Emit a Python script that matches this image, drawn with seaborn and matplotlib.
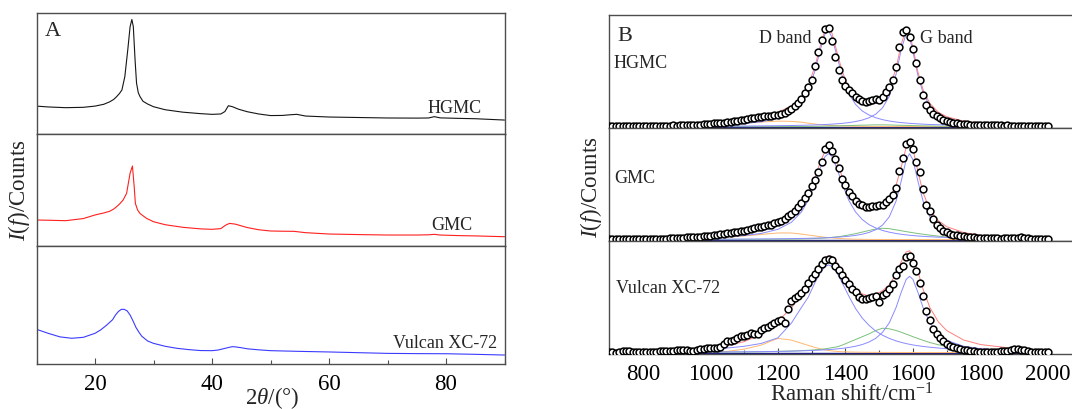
import matplotlib
matplotlib.use("Agg")
import matplotlib.pyplot as plt
from matplotlib.ticker import MultipleLocator
import numpy as np
import seaborn as sns

# ---------------- panel A: XRD patterns (counts in % of panel height) ----------------
hgmc_2theta = [10, 12, 15, 18, 20, 21.5, 22.5, 23.2, 23.7, 24.2, 24.6, 25.1, 25.6, 26.0, 26.3,
               26.55, 26.85, 27.1, 27.4, 27.7, 28.2, 29, 30, 32, 35, 38, 40, 41.5, 42.2, 42.8,
               43.5, 44.5, 46, 48, 50, 52, 53.5, 54.5, 56, 60, 65, 70, 75, 77, 78, 79, 82, 85, 90]
hgmc_xrd = [23, 22.3, 21.7, 22, 23, 24.5, 26.5, 28.5, 30.8, 33.5, 36.3, 47.3, 69.3, 88.5, 94.4,
            88.5, 61, 42, 34, 30.8, 27, 24.7, 22.5, 20, 18, 16.8, 16.2, 16.5, 18.5, 23.3,
            22.5, 20.5, 18.4, 16.5, 15.2, 15.3, 15.9, 16.2, 14.8, 14, 13.6, 13.2, 13.1, 13.2, 14.3,
            13.3, 12.9, 12.6, 11.5]

gmc_2theta = [10, 12, 15, 18, 20, 21.5, 22.5, 23.2, 23.7, 24.2, 24.8, 25.4, 26.0, 26.4, 26.7,
              26.9, 27.3, 27.7, 28.8, 30, 32, 35, 38, 40, 41.5, 42.3, 43, 44, 45, 46,
              48, 50, 52, 54, 56, 60, 65, 70, 75, 77, 78, 79, 82, 85, 90]
gmc_xrd = [23.2, 23, 22.6, 24.5, 27.7, 29.5, 31, 33, 35.1, 37.5, 41, 47, 65, 71.4, 53,
           38, 32, 29, 24.7, 21.7, 19, 16.7, 15.3, 14.9, 15.5, 18.5, 20.2, 19.5, 18, 16.5,
           14.5, 13.4, 13.2, 13.1, 11.9, 10.7, 10.2, 9.8, 9.8, 10, 10.4, 9.8, 9.3, 9, 8.3]

vulcan_2theta = [10, 12, 14, 16, 18, 20, 21, 22, 23, 23.5, 24, 24.5, 25, 25.5, 26, 26.5, 27,
                 27.5, 28, 29, 30, 32, 34, 36, 38, 40, 41, 42, 43, 43.5, 44, 45, 46, 48, 50,
                 55, 60, 65, 70, 75, 80, 85, 90]
vulcan_xrd = [29.4, 26, 23, 21.8, 22.6, 26, 29, 33, 37.5, 41.5, 44.5, 46.3, 46.3, 45, 41.5,
              36.5, 31, 27, 23.5, 19.5, 17.5, 15, 13.3, 12.2, 11.4, 11.3, 11.8, 13, 14.2, 14.7,
              14.5, 13.8, 12.9, 12, 11.3, 10.7, 10.2, 9.6, 9, 8.8, 8.7, 8.2, 7.6]

xrd_samples = ["HGMC", "GMC", "Vulcan XC-72"]
xrd_colors = ["#151515", "#ff1f1f", "#3b3bff"]

# ---------------- panel B: Raman spectra (700-2000 cm-1, 10 cm-1 step) ----------------
raman_shift = np.arange(700, 2001, 10)
raman_hgmc = [0.5, 0.3, 0.6, 0.4, 0.5, 0.6, 0.4, 0.5, 0.7, 0.5, 0.6, 0.5, 0.7, 0.6, 0.8,
              0.6, 0.7, 0.9, 0.8, 1.0, 0.9, 1.1, 1.0, 1.2, 1.3, 1.4, 1.6, 1.8, 2.0, 2.2,
              2.3, 2.8, 3.0, 3.2, 3.3, 3.6, 4.0, 4.5, 5.0, 5.6, 6.2, 6.8, 7.2, 7.8, 8.2,
              8.7, 9.0, 9.3, 9.6, 9.9, 10.3, 11.0, 12.2, 14.0, 15.8, 18.0, 21.0, 24.8, 29.5, 35.0,
              41.0, 53.5, 66.0, 77.0, 86.5, 87.0, 76.0, 62.0, 50.0, 41.5, 36.0, 32.0, 29.5, 26.0, 24.0,
              23.0, 22.2, 22.8, 23.5, 24.4, 23.8, 26.5, 30.8, 35.0, 41.0, 53.0, 71.0, 83.5, 85.5, 79.5,
              68.5, 56.0, 41.5, 28.0, 19.5, 15.0, 11.0, 9.0, 7.5, 6.0, 4.8, 4.0, 3.4, 3.0, 2.6,
              2.3, 2.0, 1.8, 1.7, 1.5, 1.4, 1.5, 1.2, 1.1, 1.3, 1.0, 1.1, 0.9, 1.0, 0.8,
              0.9, 0.7, 0.9, 0.8, 0.6, 0.8, 0.7, 0.6, 0.8, 0.6, 0.5]
raman_gmc = [0.5, 0.6, 0.4, 0.6, 0.5, 0.7, 0.5, 0.6, 0.5, 0.7, 0.6, 0.5, 0.7, 0.6, 0.8,
             0.7, 0.8, 0.9, 1.0, 1.2, 1.3, 1.5, 1.6, 1.8, 2.0, 2.2, 2.4, 2.6, 2.8, 3.0,
             3.2, 3.8, 4.2, 4.6, 5.0, 5.4, 5.9, 6.4, 6.9, 7.4, 7.9, 8.5, 9.2, 10.0, 10.7,
             11.3, 11.9, 12.5, 13.1, 14.2, 15.5, 16.8, 18.5, 20.5, 22.8, 25.5, 28.5, 32.5, 37.0, 41.0,
             47.0, 52.5, 60.0, 69.0, 80.0, 83.5, 78.5, 71.0, 63.0, 53.5, 48.0, 42.5, 38.5, 34.0, 31.5,
             30.8, 28.5, 29.0, 30.0, 30.0, 30.3, 31.0, 33.0, 36.0, 39.5, 46.0, 61.0, 72.0, 84.5, 86.0,
             80.0, 69.0, 60.0, 45.0, 31.0, 25.0, 18.0, 13.0, 10.0, 7.8, 6.3, 5.0, 4.2, 3.6, 3.2,
             2.8, 2.5, 2.2, 1.9, 1.7, 1.5, 1.4, 1.2, 1.1, 1.2, 1.0, 0.9, 1.1, 1.0, 1.2,
             1.4, 1.6, 1.8, 1.4, 1.0, 0.8, 0.7, 0.9, 0.6, 0.5, 0.4]
raman_vulcan = [0.8, 0.2, 0.0, 0.9, 1.6, 1.2, 1.1, 0.8, 0.6, 0.5, 0.4, 0.3, 0.4, 0.6, 0.9,
                1.1, 1.0, 1.1, 1.3, 1.5, 1.8, 2.2, 2.5, 1.8, 1.2, 1.4, 2.0, 2.8, 3.4, 3.8,
                4.2, 4.3, 4.3, 5.0, 7.5, 9.8, 10.3, 10.9, 13.0, 14.9, 14.7, 15.8, 17.0, 16.5, 16.2,
                19.5, 21.5, 22.8, 24.2, 25.8, 28.3, 29.0, 26.5, 38.6, 46.0, 48.2, 49.8, 53.0, 56.5, 61.5,
                66.0, 69.5, 73.5, 78.0, 81.8, 82.5, 81.5, 77.0, 73.0, 69.0, 64.5, 60.5, 56.0, 53.5, 49.5,
                47.0, 47.5, 48.3, 49.0, 49.8, 44.4, 51.3, 52.5, 56.5, 60.5, 69.0, 74.0, 77.0, 84.5, 85.8,
                79.5, 72.0, 61.5, 50.0, 36.5, 28.5, 21.0, 16.2, 13.0, 10.0, 7.5, 6.1, 4.6, 3.6, 2.8,
                2.3, 1.8, 1.4, 1.2, 0.9, 0.7, 0.5, 0.6, 0.4, 0.7, 0.9, 1.1, 1.4, 1.6, 2.2,
                2.8, 3.1, 2.5, 1.8, 1.0, 0.8, 0.7, 0.9, 0.6, 0.8, 0.7]

# peak-fit components, read on a coarser grid
fit_shift = [700, 800, 900, 1000, 1050, 1100, 1150, 1200, 1240, 1270, 1290, 1310, 1325, 1340,
             1350, 1360, 1375, 1390, 1410, 1430, 1450, 1470, 1490, 1510, 1530, 1550, 1565, 1580,
             1590, 1600, 1615, 1630, 1650, 1675, 1700, 1750, 1800, 1900, 2000]

hgmc_d = [0.41, 0.57, 0.85, 1.40, 1.89, 2.71, 4.17, 7.2, 12.6, 21.2, 32.0, 49.6, 67.4, 82.4,
          84.8, 79.4, 62.5, 45.4, 29.3, 19.7, 13.8, 10.2, 7.8, 6.1, 4.9, 4.0, 3.5, 3.1,
          2.84, 2.62, 2.35, 2.11, 1.85, 1.58, 1.37, 1.05, 0.83, 0.56, 0.40]
hgmc_g = [0.14, 0.18, 0.23, 0.32, 0.38, 0.46, 0.57, 0.73, 0.91, 1.09, 1.24, 1.43, 1.60, 1.80,
          1.95, 2.13, 2.43, 2.82, 3.49, 4.41, 5.76, 7.77, 11.0, 16.6, 26.9, 46.4, 67.9, 82.7,
          79.1, 66.4, 45.1, 29.9, 18.2, 10.8, 7.07, 3.64, 2.2, 1.05, 0.61]
hgmc_low = [0, 0, 0.1, 1.0, 2.0, 3.0, 4.0, 4.8, 4.6, 3.8, 3.0, 2.2, 1.7, 1.3,
            1.1, 0.9, 0.7, 0.5, 0.35, 0.25, 0.2, 0.15, 0.1, 0.1, 0.1, 0.05, 0.05, 0.05,
            0, 0, 0, 0, 0, 0, 0, 0, 0, 0, 0]
hgmc_mid = [0, 0, 0, 0, 0, 0, 0, 0, 0, 0, 0.1, 0.2, 0.3, 0.4,
            0.45, 0.5, 0.6, 0.75, 0.9, 1.05, 1.2, 1.35, 1.5, 1.5, 1.4, 1.2, 1.1, 1.0,
            0.9, 0.8, 0.7, 0.6, 0.5, 0.35, 0.25, 0.1, 0.05, 0, 0]

gmc_d = [0.54, 0.75, 1.12, 1.83, 2.47, 3.51, 5.35, 9.0, 15.2, 24.4, 34.7, 49.7, 63.0, 73.6,
         76.0, 73.6, 63.0, 49.7, 34.7, 24.4, 17.7, 13.2, 10.2, 8.0, 6.5, 5.35, 4.66, 4.11,
         3.8, 3.51, 3.14, 2.83, 2.47, 2.12, 1.83, 1.41, 1.12, 0.75, 0.54]
gmc_g = [0.12, 0.16, 0.21, 0.28, 0.34, 0.41, 0.51, 0.64, 0.80, 0.95, 1.08, 1.24, 1.38, 1.54,
         1.67, 1.82, 2.07, 2.38, 2.92, 3.66, 4.72, 6.28, 8.72, 12.8, 20.1, 34.0, 51.3, 70.6,
         76.0, 70.6, 51.3, 34.0, 20.1, 11.6, 7.35, 3.66, 2.17, 1.01, 0.58]
gmc_low = [0, 0.05, 0.2, 1.0, 2.0, 3.2, 4.5, 5.8, 5.8, 4.8, 4.0, 3.2, 2.6, 2.0,
           1.7, 1.4, 1.1, 0.8, 0.5, 0.3, 0.2, 0.1, 0.1, 0.05, 0.05, 0.05, 0, 0,
           0, 0, 0, 0, 0, 0, 0, 0, 0, 0, 0]
gmc_mid = [0, 0, 0, 0.05, 0.1, 0.15, 0.2, 0.3, 0.4, 0.55, 0.7, 0.9, 1.1, 1.4,
           1.6, 1.9, 2.4, 3.0, 4.0, 5.2, 6.6, 8.0, 9.3, 10.0, 9.6, 8.6, 7.8, 7.0,
           6.5, 6.0, 5.3, 4.7, 3.9, 3.0, 2.2, 1.1, 0.5, 0.1, 0]

vulcan_d = [0.9, 1.2, 1.8, 3.0, 4.0, 5.5, 8.0, 13.0, 26.0, 40.0, 49.0, 62.0, 70.5, 76.2,
            77.5, 76.2, 70.5, 62.0, 50.0, 39.0, 30.5, 24.0, 19.0, 15.3, 12.5, 10.3, 9.0, 7.9,
            7.3, 6.7, 6.0, 5.4, 4.7, 4.0, 3.4, 2.5, 1.9, 1.2, 0.8]
vulcan_g = [0.20, 0.25, 0.33, 0.44, 0.53, 0.64, 0.79, 1.01, 1.25, 1.49, 1.69, 1.93, 2.14, 2.4,
            2.6, 2.81, 3.2, 3.67, 4.48, 5.58, 7.1, 9.3, 12.6, 17.9, 26.3, 39.8, 53.1, 64.7,
            67.5, 64.7, 53.1, 39.8, 26.3, 16.3, 10.8, 5.58, 3.36, 1.58, 0.91]
vulcan_low = [0, 0.05, 0.1, 0.2, 1.0, 3.0, 6.5, 12.5, 11.0, 8.2, 6.3, 4.5, 3.3, 2.3,
              1.8, 1.4, 1.0, 0.7, 0.5, 0.35, 0.25, 0.2, 0.15, 0.1, 0.1, 0.1, 0.05, 0.05,
              0.05, 0, 0, 0, 0, 0, 0, 0, 0, 0, 0]
vulcan_mid = [0.1, 0.15, 0.2, 0.3, 0.4, 0.5, 0.7, 1.0, 1.3, 1.7, 2.0, 2.4, 2.8, 3.3,
              3.8, 4.3, 5.0, 6.5, 9.0, 11.5, 14.0, 16.5, 19.5, 21.5, 21.0, 19.5, 18.0, 16.3,
              15.2, 14.0, 12.4, 10.8, 8.9, 6.9, 5.2, 3.0, 1.8, 0.8, 0.4]

base_shift = [700, 2000]
base_level = [0, 0]

# ---------------- style ----------------
sns.set_theme(style="ticks")
plt.rcParams["font.family"] = ["Liberation Serif", "DejaVu Serif"]
plt.rcParams["mathtext.fontset"] = "custom"
plt.rcParams["mathtext.rm"] = "Liberation Serif"
plt.rcParams["mathtext.it"] = "Liberation Serif:italic"
spine_col = "#4d4d4d"

fig = plt.figure(figsize=(10.72, 4.09), dpi=100)
W, H = 1072.0, 409.0


def px_box(x0, y0, x1, y1):
    return [x0 / W, 1 - y1 / H, (x1 - x0) / W, (y1 - y0) / H]


def style_axis(ax, show_x):
    ax.set_yticks([])
    ax.set_xlabel("")
    ax.set_ylabel("")
    for s in ax.spines.values():
        s.set_color(spine_col)
        s.set_linewidth(1.0)
    ax.tick_params(axis="x", which="both", direction="in", colors=spine_col,
                   labelcolor="black", labelsize=16.5, pad=7, top=False,
                   bottom=show_x, labelbottom=show_x)
    ax.tick_params(axis="x", which="major", length=4, width=0.8)
    ax.tick_params(axis="x", which="minor", length=3, width=0.8)


# panel A
xrd_x = [hgmc_2theta, gmc_2theta, vulcan_2theta]
xrd_y = [hgmc_xrd, gmc_xrd, vulcan_xrd]
xrd_rows = [(12.7, 134), (134, 246), (246, 364)]
for i, (y0, y1) in enumerate(xrd_rows):
    ax = fig.add_axes(px_box(36.5, y0, 504.5, y1))
    sns.lineplot(x=xrd_x[i], y=xrd_y[i], ax=ax, color=xrd_colors[i],
                 linewidth=0.8, estimator=None)
    ax.set_xlim(10, 90)
    ax.set_ylim(0, 100)
    ax.xaxis.set_major_locator(MultipleLocator(20))
    ax.xaxis.set_minor_locator(MultipleLocator(10))
    style_axis(ax, i == 2)

# panel B
raman_pts = [raman_hgmc, raman_gmc, raman_vulcan]
fits = [(hgmc_d, hgmc_g, hgmc_low, hgmc_mid),
        (gmc_d, gmc_g, gmc_low, gmc_mid),
        (vulcan_d, vulcan_g, vulcan_low, vulcan_mid)]
raman_rows = [(15.3, 128), (128, 241), (241, 354)]
for i, (y0, y1) in enumerate(raman_rows):
    ax = fig.add_axes(px_box(609, y0, 1072, y1))
    d_band, g_band, low, mid = fits[i]
    total = np.sum([d_band, g_band, low, mid], axis=0)
    sns.lineplot(x=base_shift, y=base_level, ax=ax, color="#1a1a8c", linewidth=1.0, estimator=None)
    sns.lineplot(x=fit_shift, y=low, ax=ax, color="#ffb870", linewidth=0.7, estimator=None)
    sns.lineplot(x=fit_shift, y=mid, ax=ax, color="#7cc07c", linewidth=0.7, estimator=None)
    sns.lineplot(x=fit_shift, y=d_band, ax=ax, color="#8a8aff", linewidth=0.7, estimator=None)
    sns.lineplot(x=fit_shift, y=g_band, ax=ax, color="#8a8aff", linewidth=0.7, estimator=None)
    sns.lineplot(x=fit_shift, y=total, ax=ax, color="#ff8080", linewidth=0.7, estimator=None)
    sns.scatterplot(x=raman_shift, y=raman_pts[i], ax=ax, s=24, facecolor="white",
                    edgecolor="black", linewidth=1.1, zorder=5)
    ax.set_xlim(700, 2071)
    ax.set_ylim(-1.3, 98.7)
    ax.xaxis.set_major_locator(MultipleLocator(200))
    ax.xaxis.set_minor_locator(MultipleLocator(100))
    ax.spines["right"].set_visible(False)
    style_axis(ax, i == 2)


def ftext(x, y, s, **kw):
    fig.text(x / W, 1 - y / H, s, **kw)


lab = dict(fontsize=13, va="baseline")
ftext(45, 36, "A", fontsize=16, va="baseline")
ftext(481.7, 112.7, "HGMC", ha="right", **lab)
ftext(472.7, 230, "GMC", ha="right", **lab)
ftext(496.7, 348.3, "Vulcan XC-72", ha="right", **lab)

ftext(617, 41, "B", fontsize=16, va="baseline")
ftext(614, 68, "HGMC", ha="left", **lab)
ftext(614, 183, "GMC", ha="left", **lab)
ftext(616, 293, "Vulcan XC-72", ha="left", **lab)
ftext(785, 43.3, "D band", ha="center", **lab)
ftext(946, 43.3, "G band", ha="center", **lab)

ftext(272, 404, r"2$\theta$/(°)", fontsize=16.5, ha="center", va="baseline")
ftext(852, 402, r"Raman shift/cm$^{-1}$", fontsize=16.5, ha="center", va="baseline")
ftext(19, 190, r"$I(f)$/Counts", fontsize=16.5, rotation=90, ha="center", va="center")
ftext(591, 187, r"$I(f)$/Counts", fontsize=16.5, rotation=90, ha="center", va="center")

fig.savefig("out.png", dpi=100)
